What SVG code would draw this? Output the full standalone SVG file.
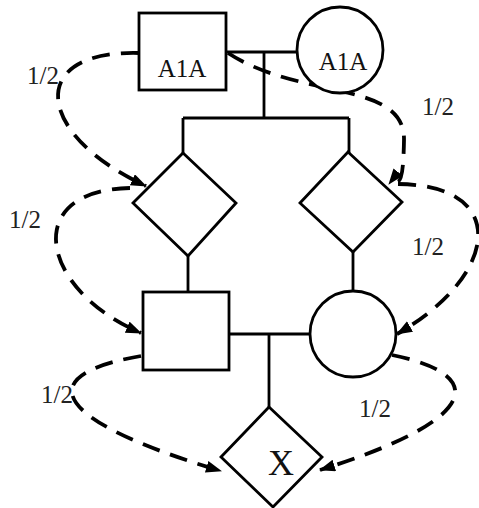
<svg xmlns="http://www.w3.org/2000/svg" width="479" height="508" viewBox="0 0 479 508">
<style>
.n{fill:#fff;stroke:#000;stroke-width:2.8}
.l{fill:none;stroke:#000;stroke-width:2.8}
.d{fill:none;stroke:#000;stroke-width:3.8;stroke-dasharray:18 11;marker-end:url(#ah)}
.t{font-family:"Liberation Serif",serif;font-size:25px;fill:#111}
.lb{font-family:"Liberation Serif",serif;font-size:25px;fill:#222}
</style>
<defs>
<marker id="ah" markerUnits="userSpaceOnUse" markerWidth="18" markerHeight="14" refX="15" refY="6" orient="auto">
<path d="M0,0 L16,6 L0,12 Z" fill="#000"/>
</marker>
</defs>
<g id="connectors">
<path class="l" d="M227,52 H298 M264,52 V118 M183,118 H349 M183,118 V153 M349,118 V153 M188,256 V292 M353,252 V292 M229,334 H310 M269,334 V407"/>
<path class="d" d="M139,53 C25,50 35,135 146,186"/>
<path class="d" d="M228,53 C300,100 405,80 404,140 S396,175 389,184"/>
<path class="d" d="M398,184 C510,185 500,275 397,334"/>
<path class="d" d="M130,188 C20,190 40,290 141,333"/>
<path class="d" d="M141,356 C30,375 50,420 221,471"/>
<path class="d" d="M392,355 C490,375 480,420 320,470"/>
</g>
<g id="gf"><rect class="n" x="139" y="13" width="87" height="77"/><text class="t" x="182" y="77" text-anchor="middle">A1A</text></g>
<g id="gm"><circle class="n" cx="340" cy="50" r="43"/><text class="t" x="343" y="70" text-anchor="middle">A1A</text></g>
<g id="c1"><polygon class="n" points="183,153 236,203 188,256 133,203"/></g>
<g id="c2"><polygon class="n" points="348,152 402,202 353,252 300,203"/></g>
<g id="f"><rect class="n" x="143" y="292" width="86" height="78"/></g>
<g id="m"><circle class="n" cx="353" cy="334" r="43"/></g>
<g id="x"><polygon class="n" points="269,407 322,457 273,507 221,457"/><text class="t" x="281" y="475" text-anchor="middle" style="font-size:36px">X</text></g>
<g id="labels">
<text class="lb" x="27" y="84">1/2</text>
<text class="lb" x="422" y="115">1/2</text>
<text class="lb" x="9" y="228">1/2</text>
<text class="lb" x="412" y="255">1/2</text>
<text class="lb" x="41" y="403">1/2</text>
<text class="lb" x="359" y="417">1/2</text>
</g>
</svg>
